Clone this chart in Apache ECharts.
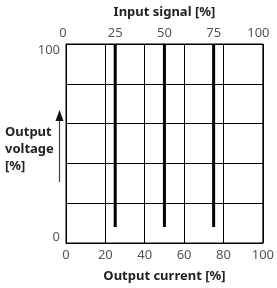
<!DOCTYPE html>
<html>
<head>
<meta charset="utf-8">
<script src="https://cdn.jsdelivr.net/npm/echarts@6/dist/echarts.min.js"></script>
<style>
    html, body { margin: 0; padding: 0; background: #fff; }
    #chart { width: 277px; height: 288px; }
</style>
</head>
<body>
<div id="chart"></div>
<script>
const currentTicks = [0, 20, 40, 60, 80, 100]
const signalTicks = [0, 25, 50, 75, 100]
const voltageLabels = [0, 100]
// each signal level: vertical line at signal %, from low voltage to full
const signalLevels = [25, 50, 75]
const voltageRange = [8, 100]

const chart = echarts.init(document.getElementById('chart'), null, { renderer: 'canvas' })
const font = '"Noto Sans", sans-serif'
const labelColor = '#555'
const tickStyle = { fontFamily: font, fontSize: 13, color: labelColor }
const nameStyle = { fontFamily: font, fontSize: 13, fontWeight: 'bold', color: '#222' }

chart.setOption({
    backgroundColor: '#fff',
    animation: false,
    grid: {
        show: true,
        left: 66, right: 9, top: 44, bottom: 42,
        borderColor: '#000',
        borderWidth: 1,
    },
    xAxis: [
        {
            type: 'value',
            min: 0, max: 100, interval: 20,
            position: 'bottom',
            name: 'Output current [%]',
            nameLocation: 'middle',
            nameGap: 27,
            nameTextStyle: nameStyle,
            axisLine: { show: true, lineStyle: { color: '#000' } },
            axisTick: { show: false },
            axisLabel: { ...tickStyle, margin: 6 },
            splitLine: { show: true, lineStyle: { color: '#000', width: 1 } },
        },
        {
            type: 'value',
            min: 0, max: 100, interval: 25,
            position: 'top',
            name: 'Input signal [%]',
            nameLocation: 'middle',
            nameGap: 25,
            nameTextStyle: nameStyle,
            axisLine: { show: false },
            axisTick: { show: false },
            axisLabel: {
                ...tickStyle, margin: 4,
                formatter: v => v === 0 ? '{lo|0}' : v === 100 ? '{hi|100}' : String(v),
                rich: {
                    lo: { ...tickStyle, padding: [0, 6, 0, 0] },
                    hi: { ...tickStyle, padding: [0, 9, 0, 0] },
                },
            },
            splitLine: { show: false },
        },
    ],
    yAxis: {
        type: 'value',
        min: 0, max: 100, interval: 20,
        axisLine: { show: true, lineStyle: { color: '#000' } },
        axisTick: { show: false },
        axisLabel: {
            ...tickStyle, margin: 6,
            formatter: v => v === 0 ? '{lo|0}' : v === 100 ? '{hi|100}' : '',
            rich: {
                lo: { ...tickStyle, padding: [0, 0, 12, 0] },
                hi: { ...tickStyle, padding: [12, 0, 0, 0] },
            },
        },
        splitLine: { show: true, lineStyle: { color: '#000', width: 1 } },
    },
    graphic: [
        {
            type: 'text',
            left: 5, top: 124,
            style: {
                text: 'Output\nvoltage\n[%]',
                font: 'bold 13px "Noto Sans", sans-serif',
                fill: '#222',
                lineHeight: 17,
            },
        },
        {
            type: 'line',
            shape: { x1: 59.5, y1: 182, x2: 59.5, y2: 118 },
            style: { stroke: '#444', lineWidth: 1.2 },
        },
        {
            type: 'polygon',
            shape: { points: [[55.5, 121], [63.5, 121], [59.5, 110]] },
            style: { fill: '#111' },
        },
    ],
    series: signalLevels.map(s => ({
        type: 'line',
        xAxisIndex: 0,
        symbol: 'none',
        silent: true,
        lineStyle: { color: '#000', width: 3 },
        data: voltageRange.map(v => [s, v]),
    })),
})
</script>
</body>
</html>
